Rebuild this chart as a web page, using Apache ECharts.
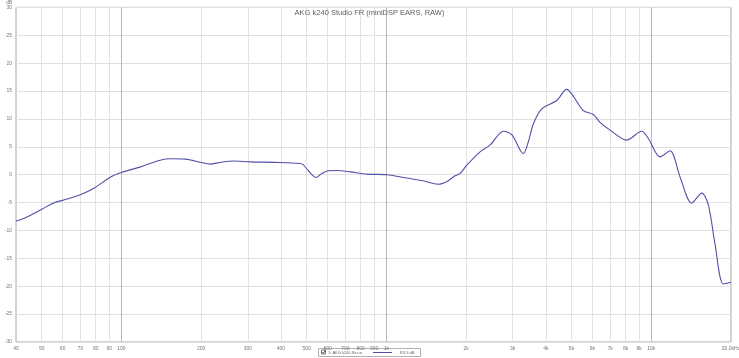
<!DOCTYPE html>
<html>
<head>
<meta charset="utf-8">
<script src="https://cdn.jsdelivr.net/npm/echarts@6/dist/echarts.min.js"></script>
<style>
html,body{margin:0;padding:0;background:#fff;}
#c{width:739px;height:358px;}
</style>
</head>
<body>
<div id="c"></div>
<script>
const titleText = 'AKG k240 Studio FR (miniDSP EARS, RAW)';
const legendName = '1: AKG k240 Stu io';
const legendValue = 'R3.3 dB';

const freqs = [40, 43, 50, 56, 60, 70, 79, 91, 100, 118, 140, 153, 174, 200, 216, 236, 264, 306, 397, 472, 485, 506, 543, 570, 602, 651, 730, 845, 1006, 1197, 1376, 1567, 1695, 1817, 1897, 2012, 2258, 2462, 2765, 2974, 3291, 3436, 3588, 3861, 4396, 4797, 5009, 5542, 6045, 6408, 6993, 8083, 9206, 9750, 10796, 11776, 12845, 14214, 15512, 16427, 17411, 18707, 20000];
const spl = [-8.3, -7.8, -6.2, -5.0, -4.6, -3.6, -2.4, -0.4, 0.4, 1.4, 2.6, 2.85, 2.8, 2.2, 1.9, 2.2, 2.45, 2.3, 2.2, 2.0, 1.8, 0.8, -0.5, 0.2, 0.7, 0.75, 0.5, 0.1, 0.0, -0.6, -1.1, -1.7, -1.2, -0.2, 0.2, 1.7, 4.1, 5.3, 7.8, 7.2, 3.8, 5.9, 9.1, 11.8, 13.3, 15.3, 14.5, 11.5, 10.8, 9.4, 8.0, 6.2, 7.8, 6.5, 3.2, 4.3, -0.4, -5.1, -3.3, -5.4, -12.5, -19.6, -19.3];

const tickFreqs = [40, 50, 60, 70, 80, 90, 100, 200, 300, 400, 500, 600, 700, 800, 900, 1000, 2000, 3000, 4000, 5000, 6000, 7000, 8000, 9000, 10000, 20000];
const tickLabels = ['40', '50', '60', '70', '80', '90', '100', '200', '300', '400', '500', '600', '700', '800', '900', '1k', '2k', '3k', '4k', '5k', '6k', '7k', '8k', '9k', '10k', '20.0kHz'];
const decades = [100, 1000, 10000];

const lineColor = '#5050a8';

const chart = echarts.init(document.getElementById('c'), null, {renderer: 'canvas'});

const markData = tickFreqs.map((f, i) => {
  const isEdge = (i === 0 || i === tickFreqs.length - 1);
  return {
    xAxis: f,
    label: {formatter: tickLabels[i]},
    lineStyle: {
      color: isEdge ? 'rgba(0,0,0,0)' : (decades.includes(f) ? '#b8b8b8' : '#e2e2e2')
    }
  };
});

chart.setOption({
  animation: false,
  backgroundColor: '#ffffff',
  title: {
    text: titleText,
    left: 'center',
    top: 4,
    textStyle: {fontSize: 7.5, fontWeight: 'normal', color: '#606060', fontFamily: 'Liberation Sans, Arial, sans-serif'}
  },
  grid: {
    left: 16, right: 8, top: 5, bottom: 16,
    show: true, borderColor: '#a8a8a8', borderWidth: 1, backgroundColor: '#fff'
  },
  xAxis: {
    type: 'log', logBase: 10, min: 40, max: 20000,
    axisLine: {show: false}, axisTick: {show: false},
    axisLabel: {show: false}, splitLine: {show: false}, minorSplitLine: {show: false}
  },
  yAxis: {
    type: 'value', min: -30, max: 30, interval: 5,
    name: 'dB', nameLocation: 'end', nameGap: -2,
    nameTextStyle: {fontSize: 5, color: '#777', align: 'right', padding: [0, 4, 0, 0]},
    axisLine: {show: false}, axisTick: {show: false},
    axisLabel: {fontSize: 5, color: '#777', margin: 4, fontFamily: 'Liberation Sans, Arial, sans-serif'},
    splitLine: {lineStyle: {color: '#e0e0e0', width: 1}}
  },
  series: [{
    type: 'line',
    data: freqs.map((f, i) => [f, spl[i]]),
    showSymbol: false,
    smooth: 0.3,
    lineStyle: {color: lineColor, width: 1.1},
    z: 5,
    markLine: {
      silent: true,
      symbol: ['none', 'none'],
      z: 1,
      lineStyle: {type: 'solid', width: 1},
      label: {show: true, position: 'start', distance: 4, fontSize: 5, color: '#777', fontFamily: 'Liberation Sans, Arial, sans-serif'},
      data: markData
    }
  }],
  graphic: [
    {type: 'rect', shape: {x: 318.5, y: 348.5, width: 102, height: 8}, style: {fill: '#fff', stroke: '#b0b0b0', lineWidth: 1}},
    {type: 'rect', shape: {x: 321.5, y: 350, width: 4, height: 4}, style: {fill: '#fff', stroke: '#555', lineWidth: 0.8}},
    {type: 'polyline', shape: {points: [[322.3, 352], [323.3, 353.2], [325.3, 350.3]]}, style: {stroke: '#333', lineWidth: 0.8, fill: null}},
    {type: 'text', x: 328, y: 352.5, style: {text: legendName, fontSize: 4, fill: '#666', textVerticalAlign: 'middle', verticalAlign: 'middle', fontFamily: 'Liberation Sans, Arial, sans-serif'}},
    {type: 'line', shape: {x1: 373, y1: 352.5, x2: 392, y2: 352.5}, style: {stroke: lineColor, lineWidth: 1}},
    {type: 'text', x: 400, y: 352.5, style: {text: legendValue, fontSize: 4, fill: '#666', textVerticalAlign: 'middle', verticalAlign: 'middle', fontFamily: 'Liberation Sans, Arial, sans-serif'}}
  ]
});
</script>
</body>
</html>
